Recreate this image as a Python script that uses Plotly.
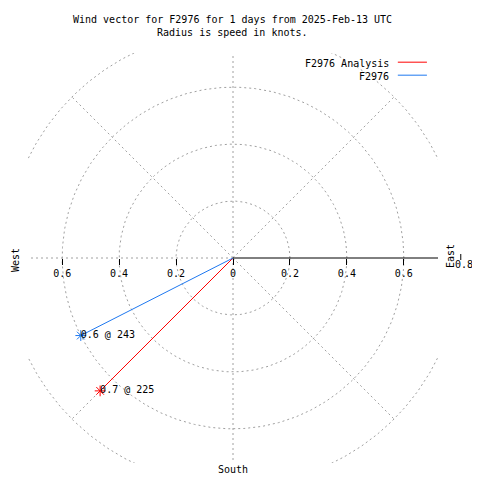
import numpy as np
import plotly.graph_objects as go

# ---- data ----
series_names = ["F2976 Analysis", "F2976"]
directions_deg = [225, 243]          # compass bearing, clockwise from north
speeds_kt = [0.66, 0.60]
series_colors = ["#ff0000", "#1e78f0"]

ring_radii = [0.2, 0.4, 0.6, 0.8]
spoke_angles = [45, 90, 135, 180, 225, 270, 315]
tick_vals = [-0.6, -0.4, -0.2, 0, 0.2, 0.4, 0.6]
tick_text = ["0.6", "0.4", "0.2", "0", "0.2", "0.4", "0.6"]
extra_tick = 0.8
title_lines = ["Wind vector for F2976 for 1 days from 2025-Feb-13 UTC",
               "Radius is speed in knots."]

LIM = 0.72
FONT = "DejaVu Sans Mono"
GRID = "#a0a0a0"
DASH = "2px,3px"
PLOT_PX = 410.0

fig = go.Figure()

# rings
phi = np.linspace(0, 2 * np.pi, 721)
for r in ring_radii:
    fig.add_trace(go.Scatter(x=r * np.cos(phi), y=r * np.sin(phi), mode="lines",
                             line=dict(color=GRID, width=1, dash=DASH),
                             hoverinfo="skip", showlegend=False))
# spokes
rmax = max(ring_radii)
for a in spoke_angles:
    t = np.deg2rad(a)
    fig.add_trace(go.Scatter(x=[0, rmax * np.cos(t)], y=[0, rmax * np.sin(t)], mode="lines",
                             line=dict(color=GRID, width=1, dash=DASH),
                             hoverinfo="skip", showlegend=False))
# radial axis (0 deg) solid black
fig.add_trace(go.Scatter(x=[0, rmax], y=[0, 0], mode="lines",
                         line=dict(color="black", width=1),
                         hoverinfo="skip", showlegend=False))

# series
for name, d, s, c in zip(series_names, directions_deg, speeds_kt, series_colors):
    t = np.deg2rad(d)
    x = s * np.sin(t)
    y = s * np.cos(t)
    fig.add_trace(go.Scatter(x=[0, x], y=[0, y], mode="lines",
                             line=dict(color=c, width=1), name=name, showlegend=False))
    fig.add_trace(go.Scatter(x=[x], y=[y], mode="markers",
                             marker=dict(symbol="asterisk-open", size=9, color=c,
                                         line=dict(color=c, width=1)),
                             showlegend=False, cliponaxis=False))
    fig.add_trace(go.Scatter(x=[x], y=[y], mode="text",
                             marker=dict(size=3),
                             text=[f"{s:.1f} @ {d}"], textposition="middle right",
                             textfont=dict(family=FONT, size=10, color="black"),
                             showlegend=False, cliponaxis=False, hoverinfo="skip"))

def txt(text, x, y, angle=0, xanchor="center"):
    return dict(text=text, xref="paper", yref="paper", x=x, y=y, textangle=angle,
                xanchor=xanchor, yanchor="middle", showarrow=False,
                font=dict(family=FONT, size=10, color="black"))

annotations = []
for i, line in enumerate(title_lines):
    annotations.append(txt(line, 0.4976, 1.0805 - i * 0.0317))
xp = (extra_tick + LIM) / (2 * LIM)
annotations += [
    txt("East", 1.0317, 0.505, angle=-90),
    txt("West", -0.0317, 0.495, angle=-90),
    txt("South", 0.5, -0.017),
    txt(f"{extra_tick}", xp + 3 / PLOT_PX, 0.5 - 6 / PLOT_PX),
]
shapes = [dict(type="line", xref="paper", yref="paper", x0=xp, x1=xp,
               y0=0.5 + 4 / PLOT_PX, y1=0.5 - 2 / PLOT_PX, line=dict(color="black", width=1))]
# legend
leg_y = [0.9756, 0.9439]
for name, c, ly in zip(series_names, series_colors, leg_y):
    annotations.append(txt(name, 0.8854, ly, xanchor="right"))
    shapes.append(dict(type="line", xref="paper", yref="paper", x0=0.902, x1=0.973,
                       y0=ly + 0.002, y1=ly + 0.002, line=dict(color=c, width=1)))

fig.update_layout(
    width=472, height=472, autosize=False,
    margin=dict(l=20, r=42, t=45, b=17, pad=0),
    paper_bgcolor="white", plot_bgcolor="white",
    showlegend=False,
    annotations=annotations, shapes=shapes,
    xaxis=dict(range=[-LIM, LIM], showgrid=False, zeroline=False, showline=False,
               anchor="free", position=0.5, tickmode="array", tickvals=tick_vals,
               ticktext=tick_text, ticks="outside", ticklen=6, tickcolor="black",
               tickfont=dict(family=FONT, size=10, color="black"), fixedrange=True),
    yaxis=dict(range=[-LIM, LIM], visible=False, fixedrange=True),
)

fig.write_html("out.html")
